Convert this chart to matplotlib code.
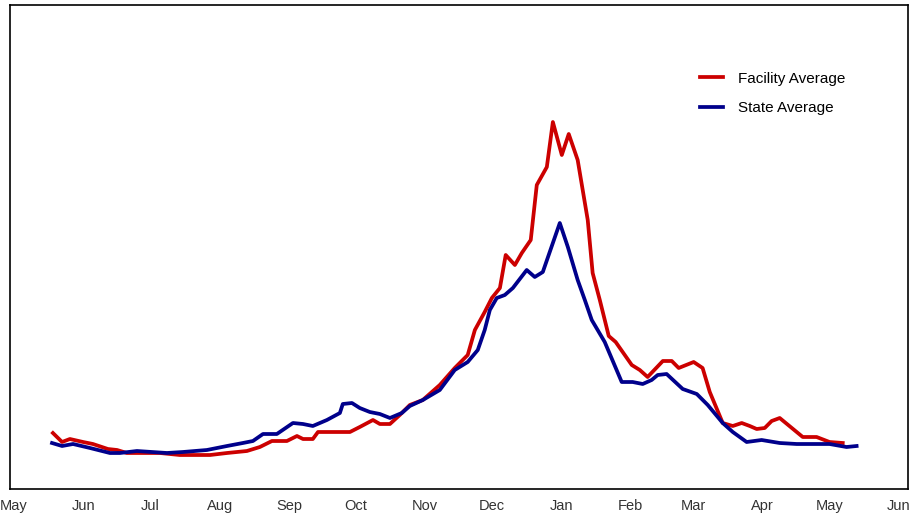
import numpy as np
import pandas as pd
import matplotlib
matplotlib.use('Agg')
import matplotlib.pyplot as plt
import matplotlib.dates as mdates

plt.rcParams['font.family'] = ['Liberation Sans', 'DejaVu Sans']

start = pd.Timestamp('2020-05-01')

# days since 2020-05-01 and values
facility_days = [17.4, 21.5, 25.0, 30.9, 35.3, 42.0, 46.1, 50.5, 56.4, 65.3, 74.2, 87.7,
                 95.3, 104.2, 110.0, 115.4, 122.1, 126.6, 129.3, 133.7, 136.0, 150.3, 154.7,
                 160.6, 163.7, 168.2, 172.6, 177.1, 182.9, 190.5, 197.2, 203.0, 206.2, 210.6,
                 213.8, 217.4, 220.0, 224.1, 227.2, 231.2, 233.9, 238.4, 241.1, 245.1, 248.2,
                 252.2, 256.7, 258.9, 262.1, 266.1, 269.2, 276.4, 280.0, 283.5, 290.3, 294.3,
                 297.4, 304.1, 308.1, 311.3, 317.1, 321.6, 325.6, 329.2, 332.3, 335.9, 339.0,
                 342.6, 352.9, 359.1, 364.9, 370.8]
facility_vals = [5.6, 4.7, 5.0, 4.7, 4.5, 4.0, 3.9, 3.6, 3.6, 3.6, 3.4, 3.4,
                 3.6, 3.8, 4.2, 4.8, 4.8, 5.3, 5.0, 5.0, 5.7, 5.7, 6.2,
                 6.9, 6.5, 6.5, 7.4, 8.4, 8.9, 10.4, 12.1, 13.4, 15.9, 17.7,
                 19.1, 20.1, 23.4, 22.4, 23.6, 24.9, 30.4, 32.2, 36.7, 33.4, 35.5,
                 32.9, 26.9, 21.6, 18.9, 15.3, 14.7, 12.4, 11.9, 11.2, 12.8, 12.8,
                 12.1, 12.7, 12.1, 9.7, 6.6, 6.3, 6.6, 6.3, 6.0, 6.1, 6.8,
                 7.1, 5.2, 5.2, 4.7, 4.6]

state_days = [17.0, 21.5, 26.4, 34.0, 42.9, 47.4, 55.0, 68.4, 75.6, 86.3, 95.3, 102.4,
              106.9, 111.4, 117.6, 124.8, 129.3, 133.7, 140.0, 145.8, 147.1, 151.2, 154.7,
              159.2, 163.7, 168.2, 173.5, 177.1, 182.9, 190.5, 197.2, 203.0, 207.5, 210.6,
              212.9, 216.0, 219.6, 223.2, 229.4, 233.0, 236.6, 239.7, 244.2, 247.8, 252.2,
              255.4, 258.5, 264.3, 271.9, 276.8, 281.3, 285.3, 288.0, 292.0, 299.2, 305.5,
              310.4, 317.1, 321.6, 327.8, 334.5, 342.6, 350.2, 364.9, 372.5, 377.0]
state_vals = [4.6, 4.3, 4.5, 4.1, 3.6, 3.6, 3.8, 3.6, 3.7, 3.9, 4.3, 4.6,
              4.8, 5.5, 5.5, 6.6, 6.5, 6.3, 6.9, 7.6, 8.5, 8.6, 8.1,
              7.7, 7.5, 7.1, 7.6, 8.3, 8.9, 9.9, 11.9, 12.7, 13.9, 15.9,
              17.9, 19.1, 19.4, 20.1, 21.9, 21.2, 21.7, 23.7, 26.6, 24.2, 20.9,
              18.9, 16.9, 14.7, 10.7, 10.7, 10.5, 10.9, 11.4, 11.5, 10.0, 9.5,
              8.4, 6.6, 5.7, 4.7, 4.9, 4.6, 4.5, 4.5, 4.2, 4.3]

fac_dates = start + pd.to_timedelta(facility_days, unit='D')
st_dates = start + pd.to_timedelta(state_days, unit='D')

fig = plt.figure(figsize=(9.11, 5.14), dpi=100)
ax = fig.add_axes([10/911, 25/514, 898/911, 484/514])

ax.plot(fac_dates, facility_vals, color='#cc0000', lw=2.7, label='Facility Average')
ax.plot(st_dates, state_vals, color='#00008b', lw=2.7, label='State Average')

ax.set_xlim(start - pd.Timedelta(days=1.8), start + pd.Timedelta(days=400))
ax.set_ylim(0, 48.4)
ax.set_yticks([])
ax.xaxis.set_major_locator(mdates.MonthLocator())
ax.xaxis.set_major_formatter(mdates.DateFormatter('%b'))
ax.tick_params(axis='x', length=0, pad=7, labelsize=10.5, labelcolor='#333333')
for s in ax.spines.values():
    s.set_linewidth(1.2)

ax.legend(loc='upper left', bbox_to_anchor=(0.768, 0.862), frameon=False, fontsize=11,
          handlelength=1.5, handletextpad=1.0, labelspacing=1.0, borderpad=0, borderaxespad=0)

fig.savefig('out.png', dpi=100)
